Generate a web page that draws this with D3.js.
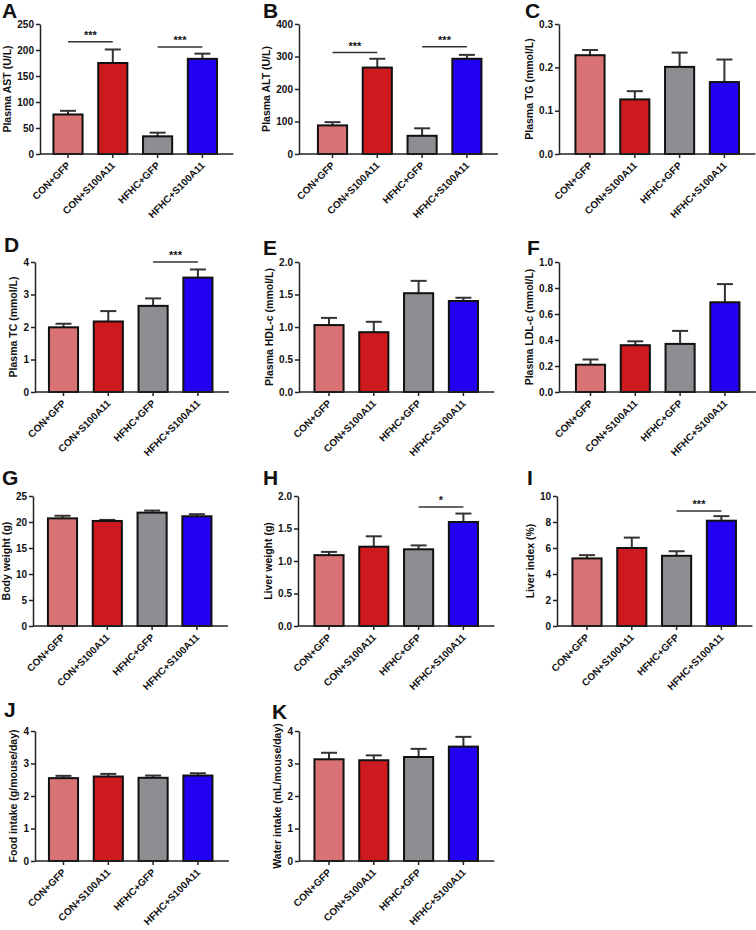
<!DOCTYPE html>
<html><head><meta charset="utf-8">
<script src="https://cdn.jsdelivr.net/npm/d3@7"></script>
<style>
body{margin:0;background:#fff}
text{font-family:Arial,"Liberation Sans",sans-serif;font-weight:bold;fill:#111}
</style>
</head><body>
<svg id="chart" width="756" height="930"></svg>
<script>
// ---- data ----
const groups = ["CON+GFP", "CON+S100A11", "HFHC+GFP", "HFHC+S100A11"];
const groupColors = ["#d87274", "#cc1a1f", "#8e8d92", "#2200f2"];

const astMean = [76, 175, 34, 183];
const astSem = [7, 26, 7, 10];
const astTicks = [0, 50, 100, 150, 200, 250];
const astSig = [{a: 0, b: 1, v: 216, t: "***"}, {a: 2, b: 3, v: 206, t: "***"}];

const altMean = [88, 266, 56, 293];
const altSem = [10, 27, 23, 12];
const altTicks = [0, 100, 200, 300, 400];
const altSig = [{a: 0, b: 1, v: 312, t: "***"}, {a: 2, b: 3, v: 330, t: "***"}];

const tgMean = [0.228, 0.126, 0.201, 0.166];
const tgSem = [0.012, 0.019, 0.033, 0.052];
const tgTicks = [0.0, 0.1, 0.2, 0.3];

const tcMean = [1.99, 2.17, 2.65, 3.52];
const tcSem = [0.11, 0.32, 0.23, 0.25];
const tcTicks = [0, 1, 2, 3, 4];
const tcSig = [{a: 2, b: 3, v: 4.0, t: "***"}];

const hdlMean = [1.03, 0.92, 1.52, 1.40];
const hdlSem = [0.11, 0.16, 0.19, 0.05];
const hdlTicks = [0.0, 0.5, 1.0, 1.5, 2.0];

const ldlMean = [0.21, 0.36, 0.37, 0.69];
const ldlSem = [0.04, 0.03, 0.10, 0.14];
const ldlTicks = [0.0, 0.2, 0.4, 0.6, 0.8, 1.0];

const bwMean = [20.7, 20.2, 21.8, 21.1];
const bwSem = [0.5, 0.2, 0.4, 0.4];
const bwTicks = [0, 5, 10, 15, 20, 25];

const lwMean = [1.09, 1.22, 1.18, 1.60];
const lwSem = [0.05, 0.16, 0.06, 0.13];
const lwTicks = [0.0, 0.5, 1.0, 1.5, 2.0];
const lwSig = [{a: 2, b: 3, v: 1.83, t: "*"}];

const liMean = [5.2, 6.0, 5.4, 8.1];
const liSem = [0.25, 0.8, 0.35, 0.35];
const liTicks = [0, 2, 4, 6, 8, 10];
const liSig = [{a: 2, b: 3, v: 8.85, t: "***"}];

const foodMean = [2.55, 2.60, 2.56, 2.63];
const foodSem = [0.07, 0.08, 0.07, 0.07];
const foodTicks = [0, 1, 2, 3, 4];

const waterMean = [3.13, 3.10, 3.20, 3.52];
const waterSem = [0.20, 0.15, 0.25, 0.30];
const waterTicks = [0, 1, 2, 3, 4];

// ---- panel definitions (layout kept separate) ----
const panels = [
  {letter: "A", title: "Plasma AST (U/L)", mean: astMean, sem: astSem, ticks: astTicks, fmt: "d", sig: astSig,
   L: {lx: 2, ly: 18, ax: 40, c0: 68, top: 24}},
  {letter: "B", title: "Plasma ALT (U/L)", mean: altMean, sem: altSem, ticks: altTicks, fmt: "d", sig: altSig,
   L: {lx: 263, ly: 18, ax: 299, c0: 332.5, top: 24}},
  {letter: "C", title: "Plasma TG (mmol/L)", mean: tgMean, sem: tgSem, ticks: tgTicks, fmt: ".1f", sig: [],
   L: {lx: 525, ly: 18, ax: 559, c0: 590, top: 24}},
  {letter: "D", title: "Plasma TC (mmol/L)", mean: tcMean, sem: tcSem, ticks: tcTicks, fmt: "d", sig: tcSig,
   L: {lx: 4, ly: 252, ax: 35, c0: 63.5, top: 262}},
  {letter: "E", title: "Plasma HDL-c (mmol/L)", mean: hdlMean, sem: hdlSem, ticks: hdlTicks, fmt: ".1f", sig: [],
   L: {lx: 263, ly: 255, ax: 299, c0: 329, top: 262}},
  {letter: "F", title: "Plasma LDL-c (mmol/L)", mean: ldlMean, sem: ldlSem, ticks: ldlTicks, fmt: ".1f", sig: [],
   L: {lx: 527, ly: 255, ax: 559, c0: 590.5, top: 262}},
  {letter: "G", title: "Body weight (g)", mean: bwMean, sem: bwSem, ticks: bwTicks, fmt: "d", sig: [],
   L: {lx: 2, ly: 485, ax: 33, c0: 62.5, top: 496}},
  {letter: "H", title: "Liver weight (g)", mean: lwMean, sem: lwSem, ticks: lwTicks, fmt: ".1f", sig: lwSig,
   L: {lx: 263, ly: 485, ax: 298, c0: 329, top: 496}},
  {letter: "I", title: "Liver index (%)", mean: liMean, sem: liSem, ticks: liTicks, fmt: "d", sig: liSig,
   L: {lx: 527, ly: 485, ax: 557, c0: 587, top: 496}},
  {letter: "J", title: "Food intake (g/mouse/day)", mean: foodMean, sem: foodSem, ticks: foodTicks, fmt: "d", sig: [],
   L: {lx: 4, ly: 717, ax: 35, c0: 63.5, top: 731}},
  {letter: "K", title: "Water intake (mL/mouse/day)", mean: waterMean, sem: waterSem, ticks: waterTicks, fmt: "d", sig: [],
   L: {lx: 272, ly: 719, ax: 299, c0: 329, top: 731}}
];

const svg = d3.select("#chart");
const plotH = 130, step = 44.8, axisColor = "#222", errColor = "#333";

panels.forEach(p => {
  const L = p.L;
  const g = svg.append("g");
  const zero = L.top + plotH;
  const maxV = p.ticks[p.ticks.length - 1];
  const y = d3.scaleLinear().domain([0, maxV]).range([zero, L.top]);
  const x = d3.scaleBand().domain(groups)
    .range([L.c0 - step / 2, L.c0 + 3.5 * step])
    .paddingInner(0.35).paddingOuter(0.175);
  const cx = d => x(d) + x.bandwidth() / 2;
  const xEnd = cx(groups[3]) + 31;

  // panel letter
  g.append("text").attr("x", L.lx).attr("y", L.ly)
    .style("font-size", "21px").text(p.letter);

  // y axis
  const ya = g.append("g").attr("transform", `translate(${L.ax},0)`)
    .call(d3.axisLeft(y).tickValues(p.ticks).tickSize(4).tickSizeOuter(0)
      .tickFormat(d3.format(p.fmt)));
  ya.selectAll("path,line").attr("stroke", axisColor).attr("stroke-width", 1.5);
  ya.selectAll("text").style("font-size", "10px").style("font-family", "Arial,'Liberation Sans',sans-serif")
    .style("font-weight", "bold").attr("fill", "#111").attr("x", -6);

  // y title
  const bb = ya.node().getBBox();
  const tx = L.ax + bb.x - 6;
  g.append("text")
    .attr("transform", `translate(${tx},${(L.top + zero) / 2}) rotate(-90)`)
    .attr("text-anchor", "middle").style("font-size", "10.5px").text(p.title);

  // error bars (under bars)
  const errG = g.append("g");
  groups.forEach((grp, i) => {
    const c = cx(grp), top = y(p.mean[i] + p.sem[i]);
    errG.append("line").attr("x1", c).attr("x2", c).attr("y1", y(p.mean[i])).attr("y2", top)
      .attr("stroke", errColor).attr("stroke-width", 2);
    errG.append("line").attr("x1", c - 8).attr("x2", c + 8).attr("y1", top).attr("y2", top)
      .attr("stroke", errColor).attr("stroke-width", 2);
  });

  // bars
  g.append("g").selectAll("rect").data(groups).join("rect")
    .attr("x", d => x(d)).attr("width", x.bandwidth())
    .attr("y", (d, i) => y(p.mean[i])).attr("height", (d, i) => zero - y(p.mean[i]))
    .attr("fill", (d, i) => groupColors[i]).attr("stroke", "#111").attr("stroke-width", 2);

  // x axis
  g.append("line").attr("x1", L.ax).attr("x2", xEnd).attr("y1", zero).attr("y2", zero)
    .attr("stroke", axisColor).attr("stroke-width", 1.5);
  groups.forEach((grp, i) => {
    const c = cx(grp);
    g.append("line").attr("x1", c).attr("x2", c).attr("y1", zero).attr("y2", zero + 4)
      .attr("stroke", axisColor).attr("stroke-width", 1.5);
    g.append("text").attr("transform", `translate(${c + 3},${zero + 12}) rotate(-45)`)
      .attr("text-anchor", "end").style("font-size", "10px").text(grp);
  });

  // significance
  p.sig.forEach(s => {
    const x1 = cx(groups[s.a]), x2 = cx(groups[s.b]), yy = y(s.v);
    g.append("line").attr("x1", x1).attr("x2", x2).attr("y1", yy).attr("y2", yy)
      .attr("stroke", errColor).attr("stroke-width", 1.5);
    g.append("text").attr("x", (x1 + x2) / 2).attr("y", yy - 3)
      .attr("text-anchor", "middle").style("font-size", "11px").text(s.t);
  });
});
</script>
</body></html>
